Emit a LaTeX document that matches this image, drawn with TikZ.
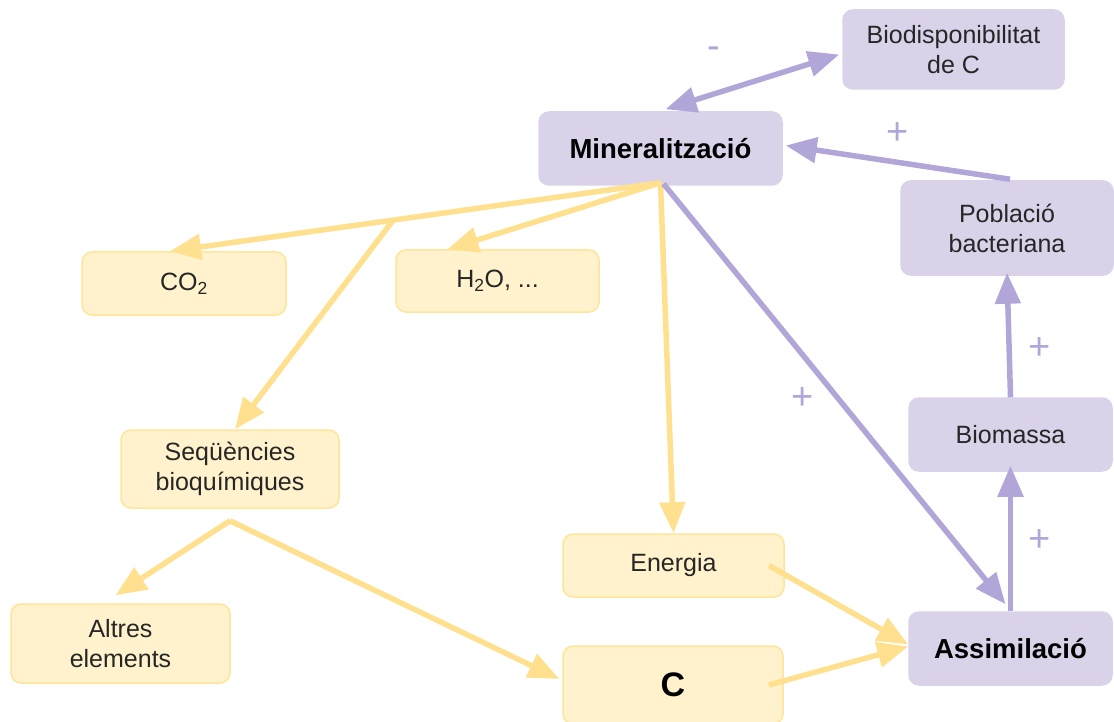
\documentclass[tikz,border=0pt]{standalone}
\usepackage{fontspec}
\setmainfont{Liberation Sans}
\usetikzlibrary{arrows.meta,calc}
\definecolor{lav}{HTML}{D9D2E9}
\definecolor{lavline}{HTML}{B2A5D8}
\definecolor{yfill}{HTML}{FFF2CC}
\definecolor{yline}{HTML}{FFE599}
\definecolor{yarrow}{HTML}{FFE08E}
\begin{document}
\begin{tikzpicture}[x=1pt,y=-1pt,
 box/.style={rectangle, rounded corners=10pt, inner sep=0pt, align=center, font=\fontsize{25}{30}\selectfont, text=black!85},
 ybox/.style={box, fill=yfill, draw=yline, line width=1.5pt},
 pbox/.style={box, fill=lav, draw=lav, line width=1.5pt},
 boldtxt/.style={font=\fontsize{27.5}{30}\selectfont\bfseries, text=black},
 tip/.style={-{Triangle[length=31pt,width=25pt]}},
 yarr/.style={draw=yarrow, line width=5.5pt, tip},
 parr/.style={draw=lavline, line width=5.5pt, tip},
 sign/.style={text=lavline, font=\fontsize{38}{38}\selectfont}
]
\useasboundingbox (0,0) rectangle (1114,722);
% purple nodes
\node[pbox, minimum width=221pt, minimum height=79pt] (bio) at (953.5,49.5) {Biodisponibilitat\\de C};
\node[pbox, boldtxt, minimum width=243pt, minimum height=73pt] (min) at (660.5,148.5) {Mineralització};
\node[pbox, minimum width=212pt, minimum height=94pt] (pob) at (1007,228) {Població\\bacteriana};
\node[pbox, minimum width=203pt, minimum height=73pt] (biom) at (1010.5,434.5) {Biomassa};
\node[pbox, boldtxt, minimum width=203pt, minimum height=73pt] (ass) at (1010.5,648.5) {Assimilació};
% yellow nodes
\node[ybox, minimum width=204pt, minimum height=63pt] (co2) at (184,283.5) {CO\textsubscript{2}};
\node[ybox, minimum width=203pt, minimum height=62pt] (h2o) at (497.5,281) {H\textsubscript{2}O, ...};
\node[ybox, minimum width=218pt, minimum height=78pt] (seq) at (230,469) {Seqüències\\bioquímiques};
\node[ybox, minimum width=219pt, minimum height=79pt] (alt) at (120.5,643.5) {Altres\\elements};
\node[ybox, minimum width=221pt, minimum height=63pt] (ene) at (673.5,565.5) {Energia};
\node[ybox, minimum width=220pt, minimum height=78pt, font=\fontsize{34}{34}\selectfont\bfseries, text=black] (c) at (673,685) {C};
% yellow connectors
\coordinate (m0) at ($(min.south)+(0,-3)$);
\coordinate (co2t) at ([xshift=-14pt]co2.north);
\coordinate (j) at ($(m0)!0.545!(co2t)$);
\draw[yarr] (m0) -- (co2t);
\draw[yarr] (j) -- ([xshift=5pt]seq.north);
\draw[yarr] (m0) -- ([xshift=-50pt]h2o.north);
\draw[yarr] (m0) -- (ene.north);
\coordinate (sb) at ($(seq.south)+(0,12)$);
\draw[yarr] (sb) -- ([yshift=8pt,xshift=-5pt]alt.north);
\draw[yarr] (sb) -- ([yshift=6pt,xshift=-3pt]c.west);
\draw[yarr] ([xshift=-16pt]ene.east) -- ([yshift=4pt]ass.west);
\draw[yarr] ([xshift=-15pt]c.east) -- ([yshift=2pt]ass.west);
% purple connectors
\draw[draw=lavline, line width=5.5pt, {Triangle[length=31pt,width=25pt]}-{Triangle[length=31pt,width=25pt]}] ([xshift=5pt,yshift=2pt]min.north) -- ([xshift=-3pt,yshift=-5pt]bio.west);
\draw[parr] ([xshift=3pt,yshift=1pt]pob.north) -- ([xshift=3pt,yshift=3pt]min.east);
\draw[parr] (biom.north) -- ([yshift=3pt]pob.south);
\draw[parr] (ass.north) -- ([yshift=6pt]biom.south);
\draw[parr] ([xshift=3pt,yshift=2pt]min.south) -- ([xshift=-5pt,yshift=7pt]ass.north);
% signs
\node[sign] (s1) at (714,53) {-};
\node[sign] (s2) at (898,134) {+};
\node[sign] (s3) at (803,399) {+};
\node[sign] (s4) at (1040,349) {+};
\node[sign] (s5) at (1040,541) {+};
\end{tikzpicture}
\end{document}
